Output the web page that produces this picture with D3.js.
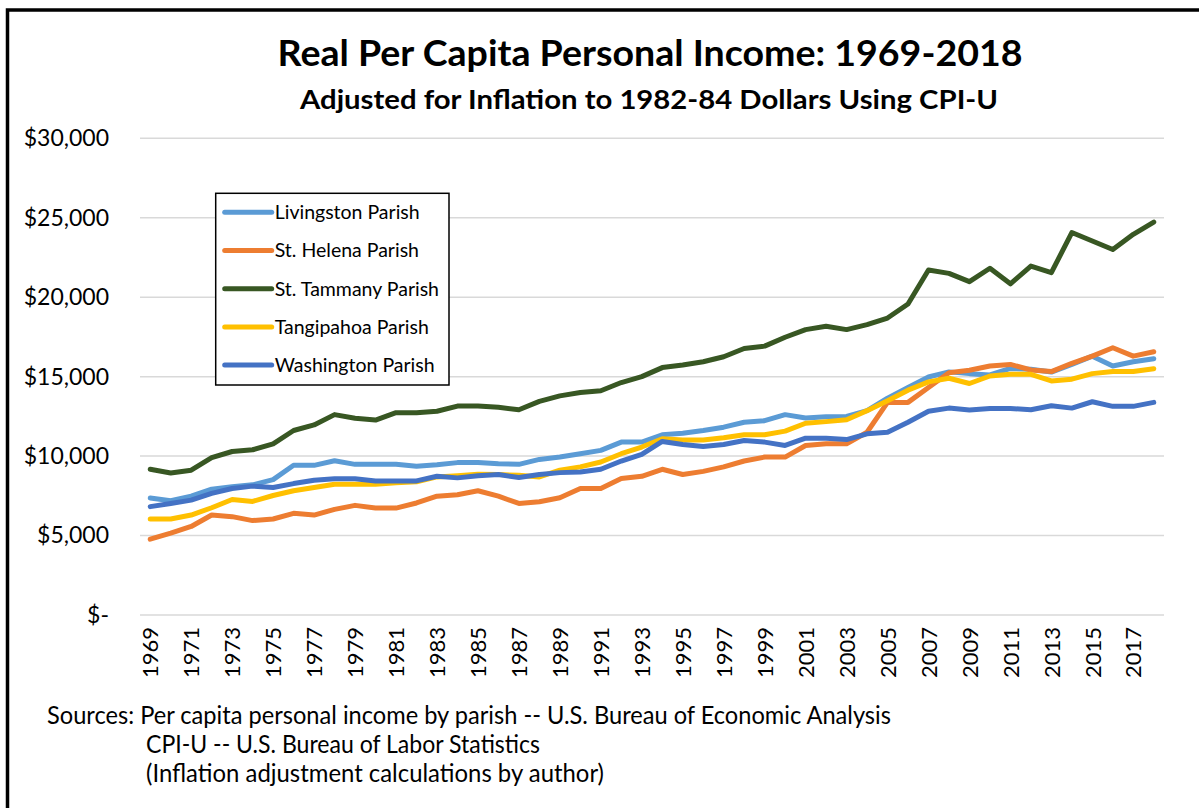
<!DOCTYPE html>
<html>
<head>
<meta charset="utf-8">
<script src="https://cdn.jsdelivr.net/npm/d3@7"></script>
<style>
  html, body { margin: 0; padding: 0; background: #fff; }
  svg { display: block; font-family: Lato, "Open Sans", sans-serif; }
</style>
</head>
<body>
<svg id="chart" width="1199" height="808"></svg>
<script>
const YEARS = [
  1969, 1970, 1971, 1972, 1973, 1974, 1975, 1976, 1977, 1978,
  1979, 1980, 1981, 1982, 1983, 1984, 1985, 1986, 1987, 1988,
  1989, 1990, 1991, 1992, 1993, 1994, 1995, 1996, 1997, 1998,
  1999, 2000, 2001, 2002, 2003, 2004, 2005, 2006, 2007, 2008,
  2009, 2010, 2011, 2012, 2013, 2014, 2015, 2016, 2017, 2018
];
const X_TICKS = [
  1969, 1971, 1973, 1975, 1977, 1979, 1981, 1983, 1985, 1987, 1989, 1991,
  1993, 1995, 1997, 1999, 2001, 2003, 2005, 2007, 2009, 2011, 2013, 2015, 2017
];
const Y_TICKS = [0, 5000, 10000, 15000, 20000, 25000, 30000];

const LIVINGSTON = [
  7360, 7190, 7480, 7920, 8070, 8190, 8520, 9420, 9420, 9710,
  9480, 9480, 9480, 9360, 9460, 9590, 9590, 9520, 9480, 9790,
  9940, 10150, 10360, 10880, 10880, 11340, 11440, 11610, 11820, 12130,
  12230, 12610, 12400, 12480, 12500, 12860, 13650, 14320, 14980, 15300,
  15190, 15110, 15520, 15460, 15290, 15770, 16290, 15670, 15940, 16130
];
const ST_HELENA = [
  4770, 5150, 5570, 6290, 6190, 5940, 6040, 6400, 6290, 6650,
  6900, 6730, 6730, 7050, 7480, 7570, 7820, 7480, 7020, 7130,
  7380, 7960, 7960, 8590, 8730, 9170, 8840, 9040, 9320, 9690,
  9940, 9940, 10670, 10770, 10770, 11500, 13380, 13380, 14320, 15250,
  15400, 15670, 15770, 15420, 15320, 15840, 16290, 16820, 16290, 16570
];
const ST_TAMMANY = [
  9170, 8940, 9110, 9900, 10290, 10400, 10770, 11610, 11960, 12610,
  12380, 12270, 12730, 12730, 12820, 13150, 13150, 13070, 12920, 13440,
  13790, 14000, 14110, 14630, 15000, 15570, 15730, 15940, 16250, 16770,
  16920, 17480, 17960, 18170, 17960, 18270, 18690, 19570, 21710, 21500,
  20980, 21820, 20840, 21960, 21540, 24070, 23540, 23000, 23960, 24730
];
const TANGIPAHOA = [
  6040, 6040, 6290, 6750, 7270, 7150, 7520, 7820, 8020, 8230,
  8230, 8230, 8320, 8380, 8690, 8770, 8860, 8840, 8790, 8690,
  9110, 9320, 9630, 10150, 10570, 11090, 11020, 11020, 11150, 11340,
  11340, 11570, 12070, 12170, 12290, 12860, 13480, 14150, 14670, 14900,
  14570, 15040, 15150, 15150, 14730, 14840, 15190, 15320, 15320, 15500
];
const WASHINGTON = [
  6820, 7020, 7230, 7650, 7960, 8110, 8020, 8270, 8480, 8570,
  8570, 8440, 8440, 8440, 8730, 8630, 8770, 8840, 8650, 8840,
  8960, 9000, 9170, 9690, 10110, 10920, 10730, 10610, 10730, 10980,
  10880, 10670, 11130, 11130, 11040, 11400, 11500, 12130, 12820, 13020,
  12900, 13000, 13000, 12920, 13170, 13020, 13420, 13130, 13130, 13380
];

const SERIES_NAMES = ["Livingston Parish", "St. Helena Parish", "St. Tammany Parish", "Tangipahoa Parish", "Washington Parish"];
const SERIES_VALUES = [LIVINGSTON, ST_HELENA, ST_TAMMANY, TANGIPAHOA, WASHINGTON];
const COLORS = ["#5B9BD5", "#ED7D31", "#385723", "#FFC000", "#4472C4"];

const SVG = d3.select("#chart");
const PLOT = { left: 140, right: 1164, top: 138.3, bottom: 615 };

const SCALE_X = d3.scalePoint()
  .domain(YEARS)
  .range([PLOT.left, PLOT.right])
  .padding(0.5);

const SCALE_Y = d3.scaleLinear()
  .domain([0, 30000])
  .range([PLOT.bottom, PLOT.top]);

SVG.append("rect")
  .attr("width", 1199).attr("height", 808)
  .attr("fill", "#fff");

// outer frame, right and bottom edges sit off the page like the original
SVG.append("rect")
  .attr("x", 7.5).attr("y", 10)
  .attr("width", 1200).attr("height", 810)
  .attr("fill", "none")
  .attr("stroke", "#000")
  .attr("stroke-width", 3.5);

SVG.append("text")
  .attr("x", 650).attr("y", 66)
  .attr("text-anchor", "middle")
  .attr("font-size", 37).attr("font-weight", "bold")
  .attr("textLength", 745).attr("lengthAdjust", "spacingAndGlyphs")
  .text("Real Per Capita Personal Income: 1969-2018");

SVG.append("text")
  .attr("x", 649).attr("y", 109)
  .attr("text-anchor", "middle")
  .attr("font-size", 27).attr("font-weight", "bold")
  .attr("textLength", 698).attr("lengthAdjust", "spacingAndGlyphs")
  .text("Adjusted for Inflation to 1982-84 Dollars Using CPI-U");

// gridlines
SVG.append("g")
  .selectAll("line")
  .data(Y_TICKS)
  .enter()
  .append("line")
  .attr("x1", PLOT.left).attr("x2", PLOT.right)
  .attr("y1", d => SCALE_Y(d)).attr("y2", d => SCALE_Y(d))
  .attr("stroke", "#d9d9d9")
  .attr("stroke-width", 1.5);

const Y_AXIS = SVG.append("g")
  .attr("transform", `translate(${PLOT.left},0)`)
  .call(d3.axisLeft(SCALE_Y)
    .tickValues(Y_TICKS)
    .tickSize(0)
    .tickPadding(31)
    .tickFormat(d => d === 0 ? "$-" : "$" + d3.format(",")(d)));
Y_AXIS.select(".domain").remove();
Y_AXIS.selectAll("text")
  .attr("font-size", 23)
  .attr("font-family", "Lato, sans-serif")
  .attr("fill", "#000");

const X_AXIS = SVG.append("g")
  .attr("transform", `translate(0,${PLOT.bottom})`)
  .call(d3.axisBottom(SCALE_X).tickValues(X_TICKS).tickSize(0));
X_AXIS.select(".domain").remove();
X_AXIS.selectAll("text")
  .attr("font-size", 22)
  .attr("font-family", "Lato, sans-serif")
  .attr("fill", "#000")
  .attr("transform", "rotate(-90)")
  .attr("text-anchor", "end")
  .attr("x", -12)
  .attr("y", 0)
  .attr("dy", "0.35em");

const LINE = d3.line()
  .x((d, i) => SCALE_X(YEARS[i]))
  .y(d => SCALE_Y(d));

SVG.append("g")
  .selectAll("path")
  .data(SERIES_VALUES)
  .enter()
  .append("path")
  .attr("d", LINE)
  .attr("fill", "none")
  .attr("stroke", (d, i) => COLORS[i])
  .attr("stroke-width", 5)
  .attr("stroke-linejoin", "round")
  .attr("stroke-linecap", "round");

// legend
const LEGEND = SVG.append("g").attr("transform", "translate(215.7,193.3)");
LEGEND.append("rect")
  .attr("width", 233.3).attr("height", 191.7)
  .attr("fill", "#fff")
  .attr("stroke", "#000")
  .attr("stroke-width", 1.5);

const ROWS = LEGEND.selectAll("g.row")
  .data(SERIES_NAMES)
  .enter()
  .append("g")
  .attr("class", "row")
  .attr("transform", (d, i) => `translate(0,${19 + i * 38.2})`);

ROWS.append("line")
  .attr("x1", 9).attr("x2", 56)
  .attr("stroke", (d, i) => COLORS[i])
  .attr("stroke-width", 5)
  .attr("stroke-linecap", "round");

ROWS.append("text")
  .attr("x", 59)
  .attr("dy", "0.35em")
  .attr("font-size", 19.5)
  .text(d => d);

// sources note
const NOTES = [
  { text: "Sources: Per capita personal income by parish -- U.S. Bureau of Economic Analysis", x: 47, y: 724, w: 844 },
  { text: "CPI-U -- U.S. Bureau of Labor Statistics", x: 146, y: 753, w: 394 },
  { text: "(Inflation adjustment calculations by author)", x: 146, y: 782, w: 458 }
];
SVG.append("g")
  .selectAll("text")
  .data(NOTES)
  .enter()
  .append("text")
  .attr("x", d => d.x).attr("y", d => d.y)
  .attr("font-size", 24.5)
  .attr("textLength", d => d.w)
  .attr("lengthAdjust", "spacingAndGlyphs")
  .text(d => d.text);
</script>
</body>
</html>
